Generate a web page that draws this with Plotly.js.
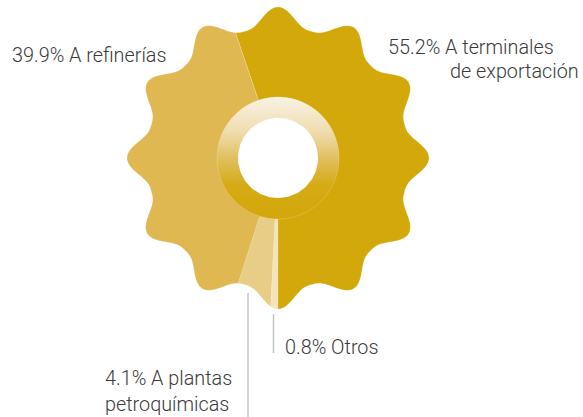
<!DOCTYPE html>
<html>
<head>
<meta charset="utf-8">
<script src="https://cdn.plot.ly/plotly-3.0.1.min.js"></script>
<style>
  html, body { margin: 0; padding: 0; background: #fff; }
  #chart { width: 583px; height: 417px; }
</style>
</head>
<body>
<div id="chart"></div>
<script>
// destino del crudo, % del total
const labels = ['A terminales de exportación', 'Otros', 'A plantas petroquímicas', 'A refinerías'];
const shares = [55.2, 0.8, 4.1, 39.9];
const colors = ['#D3A80A', '#F4E4BE', '#E8CD87', '#DFB851'];

// scalloped outline (12 lobes), in px of the polar radius
const LOBES = 12;
const R_VALLEY = 131;
const R_PEAK = 151;
const R_RING = 62;
const R_HOLE = 40;

const outline = deg => {
  const c = (1 + Math.cos((LOBES * deg * Math.PI) / 180)) / 2;
  return R_VALLEY + (R_PEAK - R_VALLEY) * Math.pow(c, 1.4);
};

// first slice ends exactly at 6 o'clock
const startAngle = 180 - shares[0] * 3.6;

const sectorTraces = [];
let acc = startAngle;
shares.forEach((v, i) => {
  const t0 = acc;
  const t1 = acc + v * 3.6;
  acc = t1;
  const theta = [];
  const r = [];
  for (let t = t0; t < t1; t += 0.25) {
    theta.push(t);
    r.push(outline(t));
  }
  theta.push(t1);
  r.push(outline(t1));
  for (let t = t1; t > t0; t -= 1) {
    theta.push(t);
    r.push(R_RING - 1);
  }
  theta.push(t0);
  r.push(R_RING - 1);
  sectorTraces.push({
    type: 'scatterpolar',
    mode: 'lines',
    theta,
    r,
    fill: 'toself',
    fillcolor: colors[i],
    line: { color: 'rgba(255,255,255,0.35)', width: 0.6 },
    name: labels[i],
    hoverinfo: 'name'
  });
});

const circle = rad => {
  const x = [];
  const y = [];
  for (let a = 0; a <= 360; a += 2) {
    x.push(rad * Math.cos((a * Math.PI) / 180));
    y.push(rad * Math.sin((a * Math.PI) / 180));
  }
  return { x, y };
};

const ringOuter = circle(R_RING + 1);
const ringInner = circle(R_HOLE);

const ringTraces = [
  {
    type: 'scatter',
    mode: 'lines',
    x: ringOuter.x,
    y: ringOuter.y,
    fill: 'toself',
    fillgradient: {
      type: 'vertical',
      colorscale: [
        [0, '#D3A70A'],
        [0.28, '#D5AA14'],
        [0.5, '#E1C060'],
        [0.72, '#F0DEB2'],
        [1, '#FAF4E7']
      ]
    },
    line: { width: 0 },
    hoverinfo: 'skip'
  },
  {
    type: 'scatter',
    mode: 'lines',
    x: ringInner.x,
    y: ringInner.y,
    fill: 'toself',
    fillcolor: '#FFFFFF',
    line: { width: 0 },
    hoverinfo: 'skip'
  }
];

const W = 583;
const H = 417;
const cx = 278;
const cy = 158;
const R = 158;
const domX = [(cx - R) / W, (cx + R) / W];
const domY = [Math.max(0, (H - cy - R) / H), Math.min(1, (H - cy + R) / H)];

const textFont = { family: 'Roboto, "Liberation Sans", sans-serif', size: 19.8, color: '#3a3a3a', weight: 300 };
const note = (text, x, y, extra) =>
  Object.assign(
    {
      text,
      x: x / W,
      y: 1 - y / H,
      xref: 'paper',
      yref: 'paper',
      xanchor: 'left',
      yanchor: 'middle',
      showarrow: false,
      align: 'left',
      borderpad: 0,
      font: textFont
    },
    extra || {}
  );

const leader = (x, y0, y1) => ({
  type: 'line',
  xref: 'paper',
  yref: 'paper',
  x0: x / W,
  x1: x / W,
  y0: 1 - y0 / H,
  y1: 1 - y1 / H,
  line: { color: '#C4C4C4', width: 1.5 }
});

const layout = {
  width: W,
  height: H,
  margin: { l: 0, r: 0, t: 0, b: 0 },
  paper_bgcolor: '#FFFFFF',
  plot_bgcolor: 'rgba(0,0,0,0)',
  showlegend: false,
  xaxis: { domain: domX, range: [-R, R], visible: false, fixedrange: true },
  yaxis: { domain: domY, range: [-R, R], visible: false, fixedrange: true },
  polar: {
    domain: { x: domX, y: domY },
    bgcolor: 'rgba(0,0,0,0)',
    radialaxis: { range: [0, R], visible: false },
    angularaxis: { direction: 'clockwise', rotation: 90, visible: false }
  },
  annotations: [
    note(`${shares[3]}% A refinerías`, 11, 55),
    note(`${shares[0]}% A terminales`, 387, 48),
    note('de exportación', 449, 71),
    note(`${shares[1]}% Otros`, 284, 347),
    note(`${shares[2]}% A plantas<br>petroquímicas`, 104, 391)
  ],
  shapes: [leader(248, 293, 417), leader(273.5, 314, 353)]
};

Plotly.newPlot('chart', ringTraces.concat(sectorTraces), layout, { staticPlot: true });
</script>
</body>
</html>
